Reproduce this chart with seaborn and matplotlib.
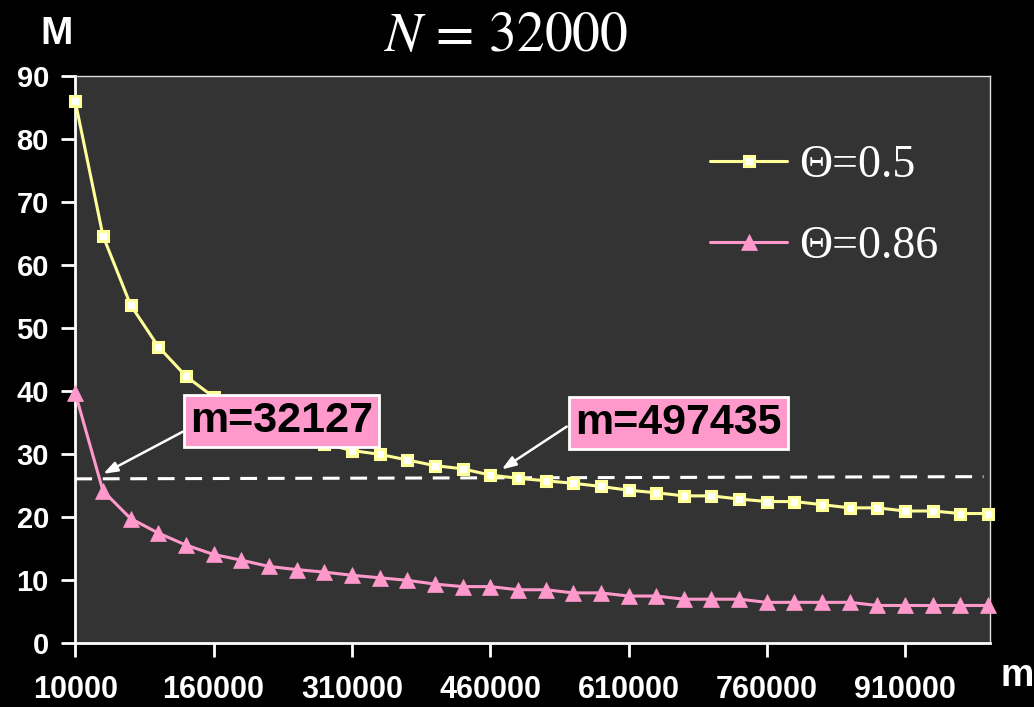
import matplotlib
matplotlib.use("Agg")
import matplotlib.pyplot as plt
import seaborn as sns

# sample size m (x categories) and number of hash functions M for two thresholds
m_values = [10000, 40000, 70000, 100000, 130000, 160000, 190000, 220000, 250000, 280000,
            310000, 340000, 370000, 400000, 430000, 460000, 490000, 520000, 550000, 580000,
            610000, 640000, 670000, 700000, 730000, 760000, 790000, 820000, 850000, 880000,
            910000, 940000, 970000, 1000000]
theta_05 = [86.0, 64.7, 53.7, 47.1, 42.4, 39.1, 36.6, 34.6, 33.0, 31.7,
            30.6, 30.0, 29.1, 28.2, 27.7, 26.7, 26.2, 25.8, 25.4, 24.9,
            24.3, 23.9, 23.4, 23.4, 22.9, 22.5, 22.5, 22.0, 21.5, 21.5,
            21.0, 21.0, 20.6, 20.6]
theta_086 = [39.7, 24.2, 19.8, 17.5, 15.6, 14.1, 13.2, 12.2, 11.7, 11.3,
             10.8, 10.4, 10.0, 9.4, 9.0, 9.0, 8.5, 8.5, 8.0, 8.0,
             7.5, 7.5, 7.0, 7.0, 7.0, 6.5, 6.5, 6.5, 6.5, 6.0,
             6.0, 6.0, 6.0, 6.0]
series_labels = ["Θ=0.5", "Θ=0.86"]

x_ticks = [10000, 160000, 310000, 460000, 610000, 760000, 910000]
y_ticks = [0, 10, 20, 30, 40, 50, 60, 70, 80, 90]

# reference level and the two crossing annotations
level_x = [10000, 995000]
level_y = [26.1, 26.45]
notes = ["m=32127", "m=497435"]
note_pos = [(234000, 35.3), (664000, 35.0)]
arrow_from = [(126800, 33.6), (543000, 34.4)]
arrow_to = [(40400, 26.9), (472500, 27.6)]

YELLOW = "#FFFF99"
PINK = "#FF99CC"

sns.set_theme(style="dark", rc={"figure.facecolor": "black", "axes.facecolor": "#333333"})
plt.rcParams["font.family"] = ["Liberation Sans", "DejaVu Sans"]
plt.rcParams["mathtext.fontset"] = "stix"

fig = plt.figure(figsize=(10.34, 7.07), dpi=100)
ax = fig.add_axes([0.0728, 0.0901, 0.8846, 0.802])

sns.lineplot(x=m_values, y=theta_05, ax=ax, color=YELLOW, lw=2.2, marker="s",
             markersize=7.5, markerfacecolor="white", markeredgecolor=YELLOW,
             markeredgewidth=2.2, label=series_labels[0], clip_on=False, zorder=4)
sns.lineplot(x=m_values, y=theta_086, ax=ax, color=PINK, lw=2.2, marker="^",
             markersize=11, markerfacecolor=PINK, markeredgecolor=PINK,
             markeredgewidth=0.5, label=series_labels[1], clip_on=False, zorder=4)

ax.plot(level_x, level_y, color="white", lw=2.2, dashes=(5.5, 3.5), zorder=3)

for (x0, y0), (x1, y1) in zip(arrow_from, arrow_to):
    ax.annotate("", xy=(x1, y1), xytext=(x0, y0),
                arrowprops=dict(arrowstyle="-|>,head_length=0.7,head_width=0.25",
                                color="white", lw=1.8, shrinkA=0, shrinkB=0), zorder=5)
for txt, (x, y) in zip(notes, note_pos):
    ax.text(x, y, txt, ha="center", va="center", fontsize=31, fontweight="bold",
            color="black", zorder=6,
            bbox=dict(boxstyle="square,pad=0.14", fc=PINK, ec="white", lw=2))

ax.set_xlim(10000, 1002000)
ax.set_ylim(0, 90)
ax.set_xticks(x_ticks)
ax.set_xticklabels([str(t) for t in x_ticks])
ax.set_yticks(y_ticks)
ax.set_yticklabels([str(t) for t in y_ticks])
ax.grid(False)
ax.tick_params(axis="x", colors="white", labelsize=22, width=2, length=10, pad=13,
               direction="out", bottom=True)
ax.tick_params(axis="y", colors="white", labelsize=21, width=2, length=10, pad=9,
               direction="out", left=True)
for lab in ax.get_xticklabels() + ax.get_yticklabels():
    lab.set_fontweight("bold")

for side in ["left", "bottom"]:
    ax.spines[side].set_color("white")
    ax.spines[side].set_linewidth(2)
for side in ["top", "right"]:
    ax.spines[side].set_color("#DDDDDD")
    ax.spines[side].set_linewidth(1)

ax.legend(loc="center left", bbox_to_anchor=(0.694, 0.771), frameon=False,
          prop={"family": "Liberation Serif", "size": 33}, labelcolor="white",
          handlelength=1.68, handletextpad=0.27, labelspacing=0.85,
          borderpad=0, borderaxespad=0)

fig.text(0.489, 0.928, r"$N\,=\,32000$", ha="center", va="baseline",
         fontsize=40, color="white")
fig.text(0.055, 0.952, "M", ha="center", va="center", fontsize=28,
         fontweight="bold", color="white")
fig.text(0.968, 0.03, "m", ha="left", va="baseline", fontsize=27,
         fontweight="bold", color="white")

fig.savefig("out.png", dpi=100, facecolor="black")
